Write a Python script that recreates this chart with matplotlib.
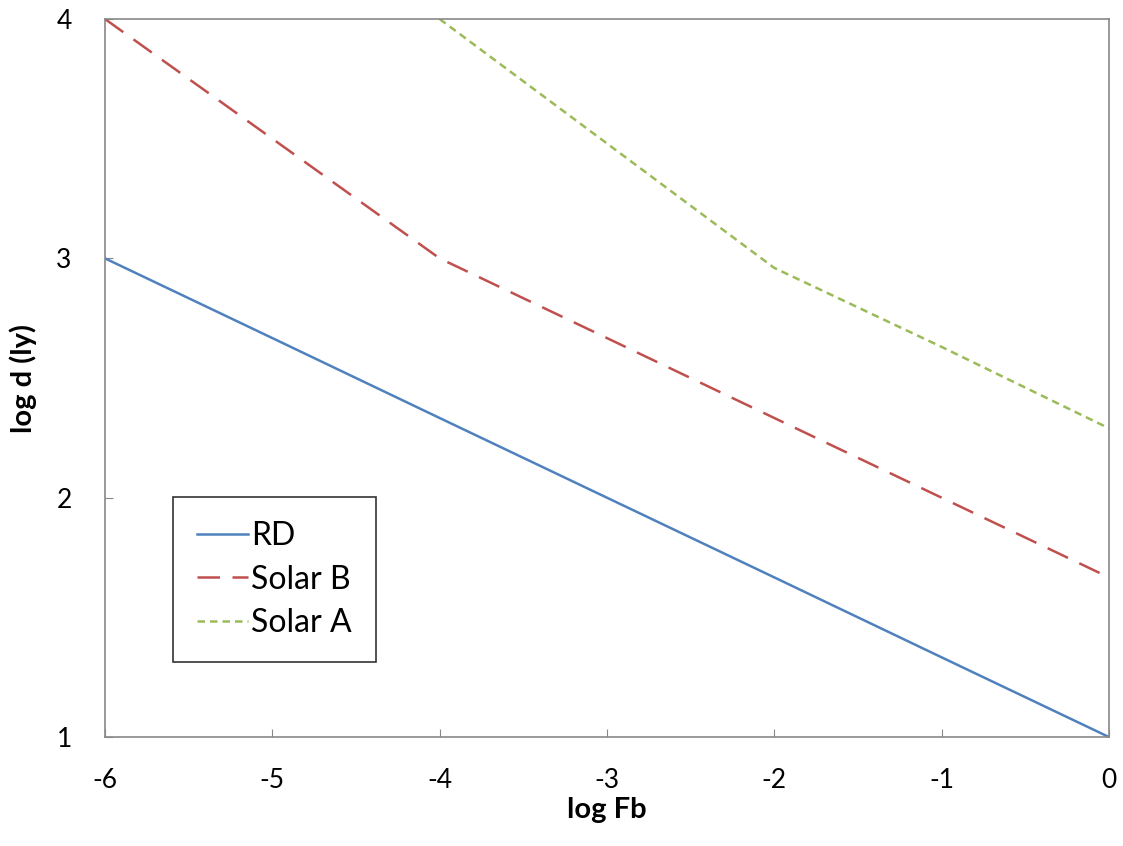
import matplotlib
matplotlib.use('Agg')
import matplotlib.pyplot as plt

plt.rcParams['font.family'] = ['Lato', 'DejaVu Sans']
plt.rcParams['axes.unicode_minus'] = False

# данные
x_vals = [-6, -5, -4, -3, -2, -1, 0]
rd = [3.0, 2.667, 2.333, 2.0, 1.667, 1.333, 1.0]
solar_b = [4.0, 3.5, 3.0, 2.667, 2.333, 2.0, 1.667]
solar_a_x = [-4, -3, -2, -1, 0]
solar_a = [4.0, 3.48, 2.96, 2.63, 2.29]

x_ticks = [-6, -5, -4, -3, -2, -1, 0]
y_ticks = [1, 2, 3, 4]

fig = plt.figure(figsize=(11.23, 8.46), dpi=100)
ax = fig.add_axes([0.0935, 0.1288, 0.894, 0.8487])

ax.plot(x_vals, rd, color='#4F81BD', lw=1.8, label='RD')
ax.plot(x_vals, solar_b, color='#C0504D', lw=1.8, dashes=(9, 5), label='Solar B')
ax.plot(solar_a_x, solar_a, color='#9BBB59', lw=1.8, dashes=(3, 2), label='Solar A')

ax.set_xlim(-6, 0)
ax.set_ylim(1, 4)
ax.set_xticks(x_ticks)
ax.set_yticks(y_ticks)
ax.tick_params(direction='in', length=6, color='#888888', labelsize=19)
ax.tick_params(axis='x', pad=22)
ax.tick_params(axis='y', pad=24)
for s in ax.spines.values():
    s.set_color('#888888')
    s.set_linewidth(1.2)

ax.set_xlabel('log Fb', fontsize=21, fontweight='bold', labelpad=3)
ax.set_ylabel('log d (ly)', fontsize=21, fontweight='bold', labelpad=14)

leg = ax.legend(loc='lower left', bbox_to_anchor=(0.0677, 0.1045), fontsize=23,
                frameon=True, fancybox=False, handlelength=1.6, handletextpad=0.1,
                borderpad=0.75, labelspacing=0.42, borderaxespad=0)
leg.get_frame().set_edgecolor('black')
leg.get_frame().set_linewidth(1.2)

fig.savefig('out.png', dpi=100)
